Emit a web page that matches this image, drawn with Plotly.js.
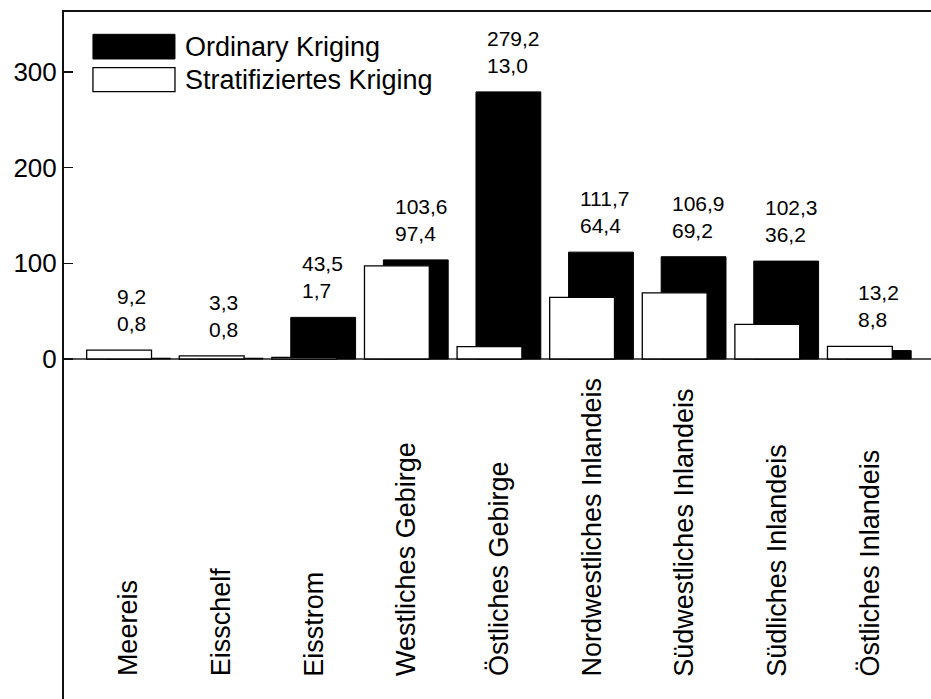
<!DOCTYPE html>
<html>
<head>
<meta charset="utf-8">
<script src="https://cdn.plot.ly/plotly-3.0.1.min.js"></script>
<style>html,body{margin:0;padding:0;background:#fff;}#chart{width:931px;height:699px;}</style>
</head>
<body>
<div id="chart"></div>
<script>
// Data
const categories = ['Meereis','Eisschelf','Eisstrom','Westliches Gebirge','Östliches Gebirge','Nordwestliches Inlandeis','Südwestliches Inlandeis','Südliches Inlandeis','Östliches Inlandeis'];
const ordinaryKriging = [0.8, 0.8, 43.5, 103.6, 279.2, 111.7, 106.9, 102.3, 8.8];
const stratifiedKriging = [9.2, 3.3, 1.7, 97.4, 13.0, 64.4, 69.2, 36.2, 13.2];
const yTicks = [0, 100, 200, 300];
const seriesNames = ['Ordinary Kriging', 'Stratifiziertes Kriging'];

const FONT = 'Liberation Sans, Arial, sans-serif';
const idx = categories.map((_, i) => i);
const fmt = v => v.toFixed(1).replace('.', ',');

const traces = [
  {type:'bar', name:seriesNames[0], x:idx, y:ordinaryKriging, width:0.70, offset:-0.25,
   marker:{color:'#000', line:{color:'#000', width:1}}, showlegend:false, hoverinfo:'skip'},
  {type:'bar', name:seriesNames[1], x:idx, y:stratifiedKriging, width:0.70, offset:-0.454,
   marker:{color:'#fff', line:{color:'#000', width:1.3}}, showlegend:false, hoverinfo:'skip'}
];

const annotations = [];
idx.forEach(i => {
  const hi = Math.max(ordinaryKriging[i], stratifiedKriging[i]);
  const lo = Math.min(ordinaryKriging[i], stratifiedKriging[i]);
  annotations.push({x:i - 0.15, y:hi, xref:'x', yref:'y', xanchor:'left', yanchor:'bottom', align:'left',
    yshift:13, showarrow:false, text:fmt(hi) + '<br>' + fmt(lo), font:{family:FONT, size:21, color:'#000'}});
  annotations.push({x:i, y:0.03, xref:'x', yref:'paper', xanchor:'center', yanchor:'bottom', textangle:-90,
    showarrow:false, text:categories[i], font:{family:FONT, size:27, color:'#000'}});
});
// custom legend text
annotations.push({x:0.1376, y:0.949, xref:'paper', yref:'paper', xanchor:'left', yanchor:'middle', showarrow:false,
  text:seriesNames[0], font:{family:FONT, size:27, color:'#000'}});
annotations.push({x:0.1376, y:0.901, xref:'paper', yref:'paper', xanchor:'left', yanchor:'middle', showarrow:false,
  text:seriesNames[1], font:{family:FONT, size:27, color:'#000'}});

const shapes = [
  {type:'rect', xref:'paper', yref:'paper', x0:0.0334, x1:0.128, y0:0.9316, y1:0.9675, fillcolor:'#000', line:{color:'#000', width:1}},
  {type:'rect', xref:'paper', yref:'paper', x0:0.0334, x1:0.128, y0:0.884, y1:0.9189, fillcolor:'#fff', line:{color:'#000', width:1.3}}
];

const layout = {
  width:931, height:699,
  margin:{l:64, r:0, t:12, b:0, pad:0},
  paper_bgcolor:'#fff', plot_bgcolor:'#fff',
  barmode:'overlay',
  showlegend:false,
  font:{family:FONT, color:'#000'},
  xaxis:{range:[-0.699, 8.664], side:'top', showline:true, linecolor:'#111', linewidth:2,
    showgrid:false, zeroline:false, showticklabels:false, ticks:'', fixedrange:true},
  yaxis:{range:[-355.4, 362.7], tickvals:yTicks, ticktext:yTicks.map(String), ticks:'inside', ticklen:9,
    tickwidth:1.5, tickcolor:'#111', showline:true, linecolor:'#111', linewidth:2, showgrid:false,
    zeroline:true, zerolinecolor:'#555', zerolinewidth:1.5, tickfont:{family:FONT, size:26, color:'#000'}, fixedrange:true},
  annotations:annotations,
  shapes:shapes
};

Plotly.newPlot('chart', traces, layout, {displayModeBar:false, staticPlot:true});
</script>
</body>
</html>
